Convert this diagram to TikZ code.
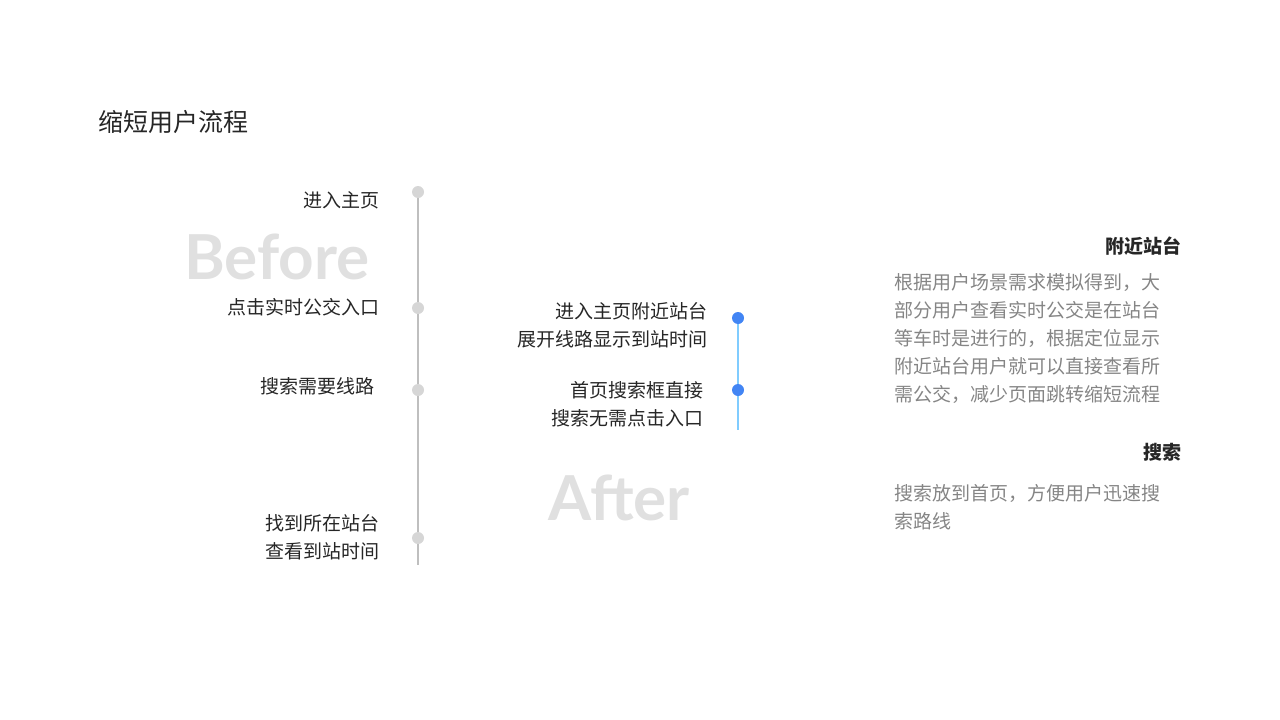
\documentclass[tikz,border=0pt]{standalone}
\usepackage{fontspec}
\setmainfont{Noto Sans CJK SC}
\newfontfamily\latn{Lato}
\begin{document}
\begin{tikzpicture}[x=1pt,y=-1pt,
 lbl/.style={anchor=east,font=\fontsize{19}{28}\selectfont,text=black!85,align=right,inner sep=0},
 gdot/.style={circle,fill=black!16,minimum size=12pt,inner sep=0},
 bdot/.style={circle,fill=blue!60!cyan!80!black,minimum size=12pt,inner sep=0},
 big/.style={font=\latn\bfseries\fontsize{62}{62}\selectfont,text=black!12,inner sep=0},
 para/.style={font=\fontsize{19}{28}\selectfont,text=black!48,align=left,anchor=north west,inner sep=0}]
\useasboundingbox (0,0) rectangle (1280,720);
\node[anchor=west,font=\fontsize{25}{30}\selectfont,text=black!85,inner sep=0] (t) at (98,122) {缩短用户流程};
\node[big] (bf) at (277,257) {Before};
\node[big] (af) at (619,498) {After};
\coordinate (g0) at (418,192); \coordinate (g1) at (418,565);
\draw[black!25,line width=1.2pt] (g0) -- (g1);
\node[gdot] (d1) at (418,192) {};
\node[gdot] (d2) at (418,308) {};
\node[gdot] (d3) at (418,390) {};
\node[gdot] (d4) at (418,538) {};
\node[lbl] (l1) at (380,200) {进入主页};
\node[lbl] (l2) at (380,307) {点击实时公交入口};
\node[lbl] (l3) at (375,386) {搜索需要线路};
\node[lbl] (l4) at (380,537) {找到所在站台\\查看到站时间};
\coordinate (b0) at (738,318); \coordinate (b1) at (738,430);
\draw[blue!40!cyan!50,line width=1.2pt] (b0) -- (b1);
\node[bdot,fill={rgb,255:red,66;green,133;blue,244}] (e1) at (738,318) {};
\node[bdot,fill={rgb,255:red,66;green,133;blue,244}] (e2) at (738,390) {};
\node[lbl] (m1) at (708,325) {进入主页附近站台\\展开线路显示到站时间};
\node[lbl] (m2) at (704,404) {首页搜索框直接\\搜索无需点击入口};
\node[lbl,font=\fontsize{19}{28}\selectfont\bfseries] (h1) at (1182,246) {附近站台};
\node[para] (p1) at (894,273) {根据用户场景需求模拟得到，大\\部分用户查看实时公交是在站台\\等车时是进行的，根据定位显示\\附近站台用户就可以直接查看所\\需公交，减少页面跳转缩短流程};
\node[lbl,font=\fontsize{19}{28}\selectfont\bfseries] (h2) at (1182,452) {搜索};
\node[para] (p2) at (894,484) {搜索放到首页，方便用户迅速搜\\索路线};
\end{tikzpicture}
\end{document}
